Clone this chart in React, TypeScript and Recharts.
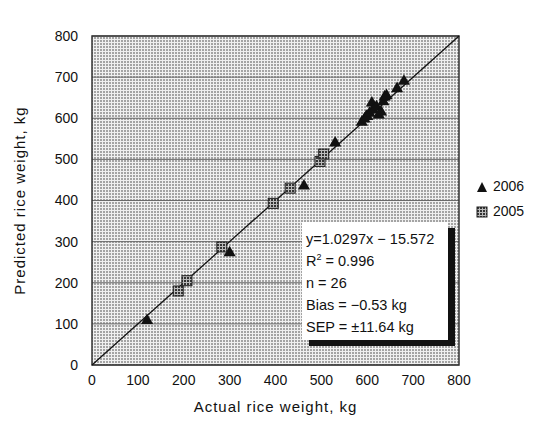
import {
  ScatterChart,
  Scatter,
  XAxis,
  YAxis,
  ZAxis,
  CartesianGrid,
  ReferenceLine,
  ReferenceArea,
  Label,
} from "recharts";

// 2006 samples: actual vs predicted (kg)
const actual2006 = [120, 300, 462, 530, 588, 594, 598, 600, 605, 610, 612, 620, 625, 630, 635, 638, 642, 665, 680];
const predicted2006 = [108, 273, 435, 540, 590, 598, 605, 604, 612, 637, 620, 628, 608, 615, 640, 652, 655, 672, 690];

// 2005 samples
const actual2005 = [188, 207, 283, 395, 432, 497, 505];
const predicted2005 = [180, 205, 287, 393, 430, 495, 513];

const ticks = [0, 100, 200, 300, 400, 500, 600, 700, 800];

const statLines = ["y=1.0297x − 15.572", "R2 = 0.996", "n = 26", "Bias = −0.53 kg", "SEP = ±11.64 kg"];

const data2006 = actual2006.map((x, i) => ({ x, y: predicted2006[i] }));
const data2005 = actual2005.map((x, i) => ({ x, y: predicted2005[i] }));

const font = "'Liberation Sans', Arial, sans-serif";

const SquareMark = (props: any) => {
  const { cx, cy } = props;
  return (
    <rect
      x={cx - 5}
      y={cy - 5}
      width={10}
      height={10}
      fill="url(#sqHatch)"
      stroke="#222"
      strokeWidth={1}
    />
  );
};

const LegendBox = () => (
  <div
    style={{
      position: "absolute",
      left: 476,
      top: 174,
      fontFamily: font,
      fontSize: 14,
      color: "#111",
      lineHeight: "25px",
    }}
  >
    <div style={{ display: "flex", alignItems: "center" }}>
      <svg width={12} height={12} style={{ marginRight: 5 }}>
        <polygon points="6,1 11,11 1,11" fill="#111" />
      </svg>
      2006
    </div>
    <div style={{ display: "flex", alignItems: "center" }}>
      <svg width={12} height={12} style={{ marginRight: 5 }}>
        <rect x={1} y={1} width={10} height={10} fill="url(#sqHatch)" stroke="#222" />
      </svg>
      2005
    </div>
  </div>
);

export default function App() {
  return (
    <div style={{ position: "absolute", left: 0, top: 0, width: 556, height: 437, background: "#fff" }}>
      <ScatterChart
        width={556}
        height={437}
        margin={{ top: 36, right: 97, bottom: 42, left: 12 }}
        style={{ fontFamily: font }}
      >
        <defs>
          <pattern id="bgHatch" width={3} height={3} patternUnits="userSpaceOnUse">
            <rect width={3} height={3} fill="#a4a4a4" />
            <rect width={3} height={1} fill="#f0f0f0" />
            <rect width={1} height={3} fill="#f0f0f0" />
          </pattern>
          <pattern id="sqHatch" width={3} height={3} patternUnits="userSpaceOnUse">
            <rect width={3} height={3} fill="#333" />
            <rect width={3} height={1} fill="#bbb" />
            <rect width={1} height={3} fill="#bbb" />
          </pattern>
        </defs>
        <CartesianGrid
          vertical={false}
          fill="url(#bgHatch)"
          fillOpacity={1}
          stroke="#6a6a6a"
          strokeWidth={1}
        />
        <XAxis
          type="number"
          dataKey="x"
          domain={[0, 800]}
          ticks={ticks}
          height={30}
          tickLine={false}
          axisLine={false}
          tickSize={6}
          tickMargin={4}
          tick={{ fill: "#111", fontSize: 14 }}
        >
          <Label
            value="Actual rice weight, kg"
            position="bottom"
            offset={6}
            style={{ fill: "#111", fontSize: 15, letterSpacing: 1 }}
          />
        </XAxis>
        <YAxis
          type="number"
          dataKey="y"
          domain={[0, 800]}
          ticks={ticks}
          width={80}
          tickLine={false}
          axisLine={false}
          tickSize={0}
          tickMargin={14}
          tick={{ fill: "#111", fontSize: 14 }}
        >
          <Label
            value="Predicted rice weight, kg"
            angle={-90}
            position="center"
            dx={-32}
            style={{ fill: "#111", fontSize: 15, letterSpacing: 1, textAnchor: "middle" }}
          />
        </YAxis>
        <ZAxis range={[55, 55]} />
        <ReferenceArea x1={0} x2={800} y1={0} y2={800} fill="none" stroke="#333" strokeWidth={1.5} />
        <ReferenceLine
          segment={[
            { x: 0, y: 0 },
            { x: 800, y: 800 },
          ]}
          stroke="#111"
          strokeWidth={1.3}
        />
        <Scatter name="2006" data={data2006} fill="#111" shape="triangle" isAnimationActive={false} />
        <Scatter name="2005" data={data2005} fill="#333" shape={<SquareMark />} isAnimationActive={false} />
      </ScatterChart>
      <LegendBox />
      <div
        style={{
          position: "absolute",
          left: 302,
          top: 222,
          width: 146,
          height: 118,
          background: "#fff",
          boxShadow: "7px 6px 0 #111",
          fontFamily: font,
          fontSize: 14.5,
          color: "#111",
          lineHeight: "22px",
          padding: "6px 0 0 4px",
          boxSizing: "border-box",
          whiteSpace: "nowrap",
        }}
      >
        {statLines.map((s) =>
          s.startsWith("R2") ? (
            <div key={s}>
              R<sup style={{ fontSize: 9, lineHeight: 0 }}>2</sup>
              {s.slice(2)}
            </div>
          ) : (
            <div key={s}>{s}</div>
          )
        )}
      </div>
    </div>
  );
}
